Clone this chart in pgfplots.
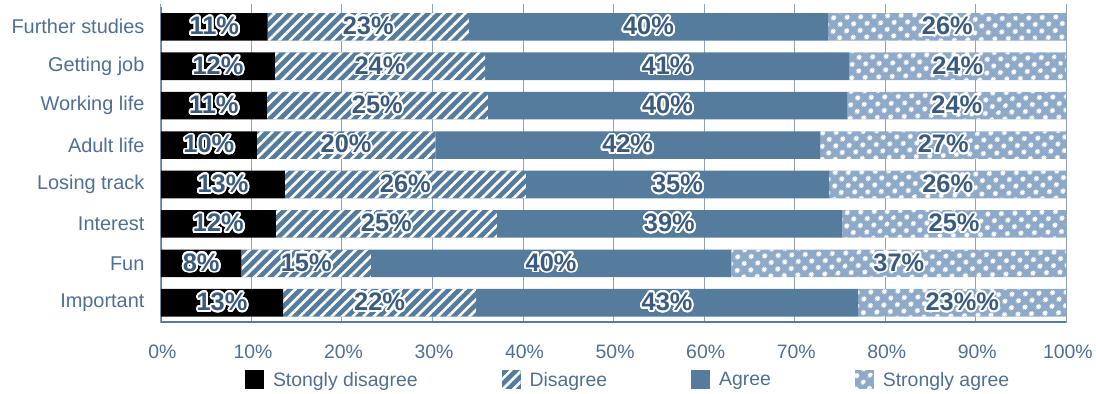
\documentclass[border=0pt]{standalone}
\usepackage{fontspec}
\setmainfont{Liberation Sans}
\usepackage{pgfplots}
\pgfplotsset{compat=1.18}
\usepackage{pgfplotstable}
\usetikzlibrary{patterns.meta}
\usepackage[copies]{contour}
\contourlength{1.8pt}
\contournumber{24}

\definecolor{agc}{HTML}{557B9D}
\definecolor{sac}{HTML}{8FA9C9}
\definecolor{txc}{HTML}{4F6F93}
\definecolor{labc}{HTML}{3A5A7E}
\definecolor{gridc}{HTML}{8EA2BA}

\pgfplotsset{legimg/.style={legend image code/.code={\fill[##1] (0bp,-9.5bp) rectangle (19bp,9.5bp);}}}

% bar lengths, labels as printed on the bars
\pgfplotstableread{
y  sd   sdl d    dl a    al sa   sal
8  11.8 11  22.2 23 39.7 40 26.3 26
7  12.6 12  23.2 24 40.2 41 24.0 24
6  11.7 11  24.4 25 39.7 40 24.2 24
5  10.6 10  19.7 20 42.5 42 27.2 27
4  13.7 13  26.6 26 33.5 35 26.2 26
3  12.7 12  24.4 25 38.1 39 24.8 25
2  8.9  8   14.3 15 39.8 40 37.0 37
1  13.5 13  21.3 22 42.2 43 23.0 23\%
}\survey

\begin{document}
\begin{tikzpicture}
\begin{axis}[
  scale only axis, width=906bp, height=319bp,
  xbar stacked, bar width=0.7,
  xmin=0, xmax=100, ymin=0.49, ymax=8.58,
  ytick={1,...,8},
  yticklabels={Important,Fun,Interest,Losing track,Adult life,Working life,Getting job,Further studies},
  xtick={0,10,...,100},
  xticklabels={0\%,10\%,20\%,30\%,40\%,50\%,60\%,70\%,80\%,90\%,100\%},
  major tick length=0pt,
  xmajorgrids, grid style={gridc, line width=1bp},
  axis line style={draw=none},
  tick label style={font=\fontsize{19.5}{22}\selectfont, text=txc},
  xticklabel style={yshift=-19bp, xshift=1.5bp},
  yticklabel style={xshift=-13bp, font=\fontsize{20}{22}\selectfont},
  point meta=explicit symbolic,
  nodes near coords={\contour{white}{\pgfplotspointmeta\%}},
  every node near coord/.append style={font=\bfseries\fontsize{25.5}{28}\selectfont, text=labc, anchor=center},
  legend columns=4,
  legend style={draw=none, fill=none, font=\color{txc}\fontsize{19.5}{22}\selectfont,
    at={(axis description cs:0.0927,-0.179)}, anchor=west, inner sep=0pt,
    /tikz/every odd column/.append style={column sep=7bp},
    /tikz/every even column/.append style={column sep=82bp}},
]
\addplot[fill=black, draw=none, legimg] table[x=sd, y=y, meta=sdl]{\survey};
\addlegendentry{Stongly disagree}
\addplot[fill=agc, draw=none, postaction={pattern={Lines[angle=45,distance=7.5bp,line width=2.6bp]}, pattern color=white}, legimg]
  table[x=d, y=y, meta=dl]{\survey};
\addlegendentry{Disagree}
\addplot[fill=agc, draw=none, legimg] table[x=a, y=y, meta=al]{\survey};
\addlegendentry{Agree}
\addplot[fill=sac, draw=none, postaction={pattern={Dots[angle=45,distance=10bp,radius=2.8bp]}, pattern color=white}, legimg]
  table[x=sa, y=y, meta=sal]{\survey};
\addlegendentry{Strongly agree}
\draw[gridc, line width=1.2bp] (rel axis cs:1,0) -- (rel axis cs:1,1);
\draw[agc, line width=3.5bp] (rel axis cs:0,0) -- (rel axis cs:1,0);
\draw[agc, line width=3bp] (rel axis cs:0,0) -- (rel axis cs:0,0.99);
\end{axis}
\path ([shift={(-161bp,-71bp)}]current axis.south west) rectangle ([shift={(29bp,4bp)}]current axis.north east);
\end{tikzpicture}
\end{document}
